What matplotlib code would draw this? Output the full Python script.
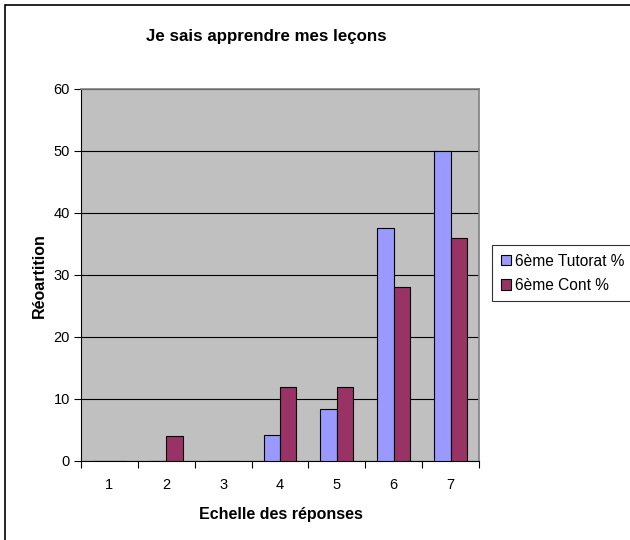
import matplotlib
matplotlib.use("Agg")
import matplotlib.pyplot as plt
import numpy as np
from matplotlib.patches import Rectangle

categories = ["1", "2", "3", "4", "5", "6", "7"]
tutorat = [0, 0, 0, 4.17, 8.33, 37.5, 50]
cont = [0, 4, 0, 12, 12, 28, 36]
yticks = [0, 10, 20, 30, 40, 50, 60]

plt.rcParams['font.family'] = ['Liberation Sans', 'DejaVu Sans']

fig = plt.figure(figsize=(6.3, 5.4), dpi=100)
fig.patches.append(Rectangle((5/630, -0.1), 1.2, (535)/540 + 0.1, transform=fig.transFigure,
                             fill=False, edgecolor='black', linewidth=1.2))

ax = fig.add_axes([81/630, 1 - 461/540, (479-81)/630, (461-88.5)/540])
ax.set_facecolor('#C0C0C0')
x = np.arange(len(categories))
w = 0.29
ax.bar(x - w/2, tutorat, w, color='#9999FF', edgecolor='black', linewidth=0.8, label='6ème Tutorat %', zorder=3)
ax.bar(x + w/2, cont, w, color='#993366', edgecolor='black', linewidth=0.8, label='6ème Cont %', zorder=3)

ax.set_xlim(-0.5, len(categories) - 0.5)
ax.set_ylim(0, 60)
ax.set_yticks(yticks)
ax.yaxis.grid(True, color='black', linewidth=0.8, zorder=1)
ax.set_axisbelow(True)
ax.set_xticks(x)
ax.set_xticklabels(categories, fontsize=10.5)
ax.set_xticks(np.arange(-0.5, len(categories)), minor=True)
ax.tick_params(axis='x', which='major', length=0, pad=12)
ax.tick_params(axis='x', which='minor', length=5, width=0.8, direction='out')
ax.tick_params(axis='y', length=5, width=0.8, direction='out', labelsize=10.5, pad=3)
for s in ['top', 'right']:
    ax.spines[s].set_color('#808080')
    ax.spines[s].set_linewidth(1.2)
for s in ['left', 'bottom']:
    ax.spines[s].set_color('black')
    ax.spines[s].set_linewidth(0.8)

fig.text(266/630, 1 - 36/540, "Je sais apprendre mes leçons", ha='center', va='center',
         fontsize=12.2, fontweight='bold')
fig.text(280.5/630, 1 - 515/540, "Echelle des réponses", ha='center', va='center',
         fontsize=11.5, fontweight='bold')
fig.text(39/630, 1 - 275.5/540, "Réoartition", ha='center', va='center', rotation=90,
         fontsize=11.5, fontweight='bold')

leg = fig.legend(loc='upper left', bbox_to_anchor=(492/630, 1 - 245/540), frameon=True,
                 fancybox=False, edgecolor='black', fontsize=11.2, handlelength=0.68,
                 handleheight=0.68, handletextpad=0.25, borderpad=0.55, labelspacing=0.6,
                 borderaxespad=0)
leg.get_frame().set_linewidth(0.8)

fig.savefig("out.png", dpi=100)
